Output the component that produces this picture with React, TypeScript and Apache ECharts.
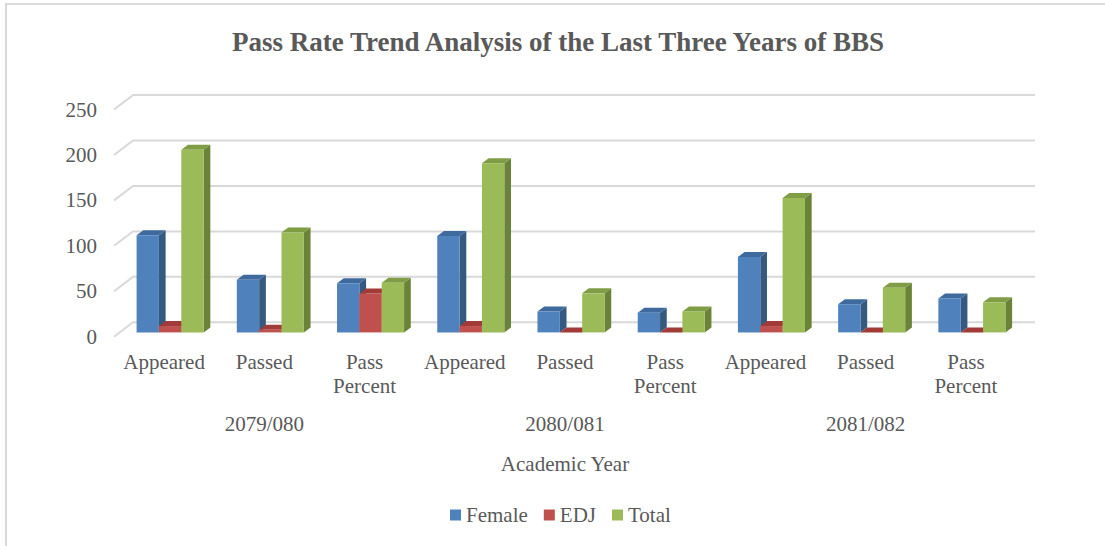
import React, { useEffect, useRef } from "react";
import * as echarts from "echarts";

const categories = ["Appeared", "Passed", "Pass\nPercent", "Appeared", "Passed", "Pass\nPercent", "Appeared", "Passed", "Pass\nPercent"];
const years = ["2079/080", "2080/081", "2081/082"];
const yTicks = [0, 50, 100, 150, 200, 250];
const female = [107, 58, 54.21, 106, 23, 21.7, 83, 31, 37.35];
const edj = [7, 3, 42.86, 7, 0, 0, 7, 0, 0];
const total = [201, 110, 54.73, 186, 43, 23.12, 148, 49, 33.11];

const seriesDefs = [
  { name: "Female", data: female, front: "#4F81BD", top: "#3E6A9E", side: "#36597F" },
  { name: "EDJ", data: edj, front: "#C0504D", top: "#A23B38", side: "#8C302E" },
  { name: "Total", data: total, front: "#9BBB59", top: "#7E9D44", side: "#6A8338" },
];

const TEXT = "#595959";
const FONT = "'Liberation Serif', 'Times New Roman', serif";
// oblique depth vectors (full floor depth, bar front offset, bar depth)
const DEPTH = [19, -14.4];
const FRONT = [6, -4.3];
const BAR = [6.7, -5];
const BAR_W = 0.223;

export default function App() {
  const ref = useRef<HTMLDivElement>(null);
  useEffect(() => {
    if (!ref.current) return;
    const chart = echarts.init(ref.current, null, { renderer: "svg" });
    const barSeries = seriesDefs.map((s, k) => ({
      name: s.name,
      type: "custom",
      xAxisIndex: 0,
      yAxisIndex: 0,
      itemStyle: { color: s.front },
      data: s.data.map((v, i) => [i, v]),
      renderItem: (params: any, api: any) => {
        const idx = api.value(0);
        const val = api.value(1);
        const p0 = api.coord([idx, 0]);
        const p1 = api.coord([idx, val]);
        const band = api.size([1, 0])[0];
        const bw = band * BAR_W;
        const fx = p0[0] - 1.5 * bw + k * bw + FRONT[0];
        const yb = p0[1] + FRONT[1];
        const yt = p1[1] + FRONT[1];
        return {
          type: "group",
          children: [
            {
              type: "polygon",
              shape: { points: [[fx + bw, yt], [fx + bw + BAR[0], yt + BAR[1]], [fx + bw + BAR[0], yb + BAR[1]], [fx + bw, yb]] },
              style: { fill: s.side },
            },
            {
              type: "polygon",
              shape: { points: [[fx, yt], [fx + bw, yt], [fx + bw + BAR[0], yt + BAR[1]], [fx + BAR[0], yt + BAR[1]]] },
              style: { fill: s.top },
            },
            {
              type: "rect",
              shape: { x: fx, y: yt, width: bw, height: Math.max(0, yb - yt) },
              style: { fill: s.front },
            },
          ],
        };
      },
    }));

    const gridSeries = {
      name: "grid",
      type: "custom",
      xAxisIndex: 0,
      yAxisIndex: 0,
      silent: true,
      data: yTicks.map((v) => [0, v]),
      renderItem: (params: any, api: any) => {
        const cs = params.coordSys;
        const y = api.coord([0, api.value(1)])[1];
        const left = cs.x;
        const right = cs.x + cs.width;
        return {
          type: "polyline",
          shape: { points: [[left, y], [left + DEPTH[0], y + DEPTH[1]], [right + DEPTH[0], y + DEPTH[1]]] },
          style: { stroke: "#D9D9D9", lineWidth: 2, fill: "none" },
        };
      },
    };

    chart.setOption({
      animation: false,
      textStyle: { fontFamily: FONT },
      title: {
        text: "Pass Rate Trend Analysis of the Last Three Years of BBS",
        left: 558,
        textAlign: "center",
        top: 27,
        padding: 0,
        textStyle: { fontFamily: FONT, fontSize: 27, fontWeight: "bold", color: TEXT, lineHeight: 30 },
      },
      graphic: [
        {
          type: "rect",
          shape: { x: 6, y: 4, width: 1300, height: 800 },
          style: { fill: "none", stroke: "#D9D9D9", lineWidth: 2 },
          silent: true,
          z: -10,
        },
      ],
      legend: {
        data: seriesDefs.map((s) => s.name),
        left: 450,
        top: 503,
        icon: "rect",
        itemWidth: 11,
        itemHeight: 11,
        itemGap: 16,
        padding: 0,
        textStyle: { fontFamily: FONT, fontSize: 21, color: TEXT, lineHeight: 24 },
      },
      grid: { left: 114, right: 89, top: 109.5, bottom: 209.3, containLabel: false },
      xAxis: [
        {
          type: "category",
          data: categories,
          axisLine: { show: false },
          axisTick: { show: false },
          axisLabel: { interval: 0, margin: 13, fontSize: 21, color: TEXT, lineHeight: 24, fontFamily: FONT, align: "center" },
        },
        {
          type: "category",
          data: years,
          position: "bottom",
          offset: 68,
          axisLine: { show: false },
          axisTick: { show: false },
          axisLabel: { interval: 0, margin: 9, fontSize: 21, color: TEXT, fontFamily: FONT },
          name: "Academic Year",
          nameLocation: "middle",
          nameGap: 49,
          nameTextStyle: { fontSize: 21, color: TEXT, fontFamily: FONT },
        },
      ],
      yAxis: {
        type: "value",
        min: 0,
        max: 250,
        interval: 50,
        axisLine: { show: false },
        axisTick: { show: false },
        splitLine: { show: false },
        axisLabel: { margin: 17, fontSize: 21, color: TEXT, fontFamily: FONT },
      },
      series: [gridSeries, ...barSeries],
    });
    return () => chart.dispose();
  }, []);
  return <div ref={ref} style={{ position: "fixed", left: 0, top: 0, width: 1105, height: 546, background: "#fff" }} />;
}
